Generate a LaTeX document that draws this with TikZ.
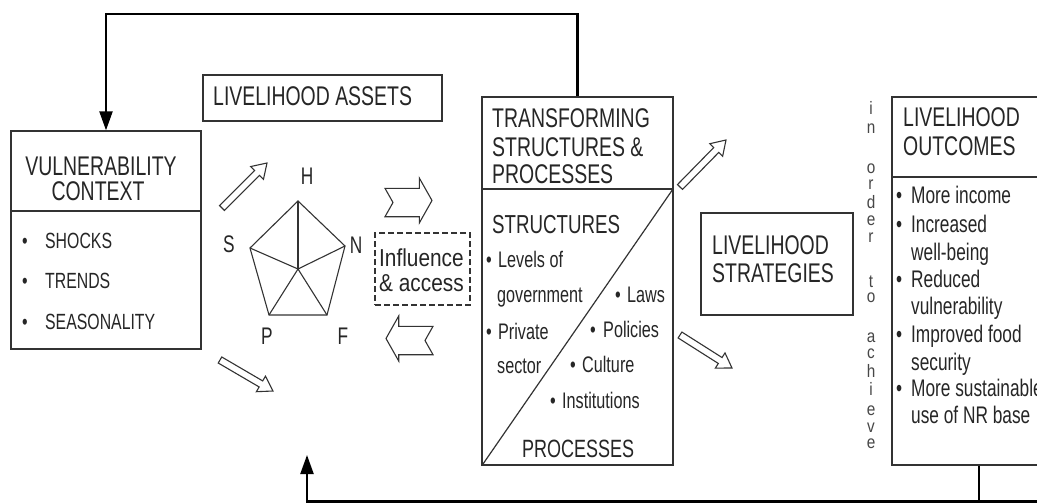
\documentclass[tikz,border=0pt]{standalone}
\usepackage{fontspec}
\setmainfont{Liberation Sans}
\newfontfamily\condf[FakeStretch=0.72]{Liberation Sans}
\newfontfamily\medf[FakeStretch=0.85]{Liberation Sans}
\usetikzlibrary{arrows.meta,calc}
\definecolor{linec}{HTML}{333333}
\definecolor{txtc}{HTML}{262626}
\newcommand\bulbox[1][12pt]{\makebox[#1][l]{•}}
\newcommand\harrow[3]{%
  \coordinate (#1t) at (#2);
  \coordinate (#1p) at (#3);
  \coordinate (#1b) at ($(#1p)!14pt!(#1t)$);
  \draw[hollow] ($(#1t)!3.5pt!90:(#1p)$) -- ($(#1b)!3.5pt!90:(#1p)$) -- ($(#1b)!9pt!90:(#1p)$) -- (#1p)
     -- ($(#1b)!9pt!-90:(#1p)$) -- ($(#1b)!3.5pt!-90:(#1p)$) -- ($(#1t)!3.5pt!-90:(#1p)$) -- cycle;}
\begin{document}
\begin{tikzpicture}[x=1pt,y=-1pt,
  box/.style={draw=linec, line width=1.3pt, inner sep=0pt},
  dbox/.style={draw=linec, line width=1.3pt, dashed, dash pattern=on 6pt off 3pt, inner sep=0pt},
  sep/.style={draw=linec, line width=1.2pt},
  fb/.style={draw=black, line width=2.2pt, -{Triangle[length=19pt,width=13pt]}},
  fbl/.style={draw=black, line width=2.2pt},
  hollow/.style={draw=linec, line width=1.1pt, fill=white, line join=miter},
  pent/.style={draw=linec, line width=1.1pt},
  ttl/.style={font=\condf\fontsize{27pt}{30pt}\selectfont, text=txtc, inner sep=0pt, anchor=base west},
  ttlc/.style={ttl, anchor=base},
  btv/.style={font=\condf\fontsize{22pt}{24pt}\selectfont, text=txtc, inner sep=0pt, anchor=base west},
  btt/.style={font=\condf\fontsize{22.5pt}{24pt}\selectfont, text=txtc, inner sep=0pt, anchor=base west},
  bto/.style={font=\condf\fontsize{24pt}{26pt}\selectfont, text=txtc, inner sep=0pt, anchor=base west},
  inf/.style={font=\medf\fontsize{24.5pt}{28pt}\selectfont, text=txtc, inner sep=0pt, anchor=base west},
  plab/.style={font=\condf\fontsize{24pt}{26pt}\selectfont, text=txtc, inner sep=0pt},
  vl/.style={font=\medf\fontsize{18pt}{19pt}\selectfont, text=txtc!85, inner sep=0pt, anchor=base}
]
\useasboundingbox (0,0) rectangle (1037,503);
\fill[white] (0,0) rectangle (1037,503);
\begin{scope}
\clip (0,0) rectangle (1037,503);

% boxes
\node[box, minimum width=190pt, minimum height=218pt] (vc) at (106,240) {};
\node[box, minimum width=239pt, minimum height=46pt] (la) at (322.5,98) {};
\node[box, minimum width=191pt, minimum height=368pt] (tsp) at (577.5,281) {};
\node[box, minimum width=152pt, minimum height=102pt] (ls) at (777,264) {};
\node[box, minimum width=174pt, minimum height=368pt] (lo) at (979,281) {};
\node[dbox, minimum width=95pt, minimum height=72pt] (ia) at (422.5,269) {};

% dividers
\draw[sep] (11,211) -- (201,211);
\draw[sep] (482,189) -- (673,189);
\draw[sep] (483,464) -- (673,189);
\draw[sep] (892,177) -- (1066,177);

% vulnerability context
\node[ttlc] (vct1) at (101,175) {VULNERABILITY};
\node[ttlc] (vct2) at (98,200) {CONTEXT};
\node[btv] (vcb1) at (22,248) {\bulbox[23pt]SHOCKS};
\node[btv] (vcb2) at (22,288) {\bulbox[23pt]TRENDS};
\node[btv] (vcb3) at (22,329) {\bulbox[23pt]SEASONALITY};

% livelihood assets
\node[ttl] (lat) at (213,106) {LIVELIHOOD ASSETS};

% pentagon
\coordinate (pH) at (298,201);
\coordinate (pS) at (250,248);
\coordinate (pN) at (345,246);
\coordinate (pF) at (327,315);
\coordinate (pP) at (269,315);
\coordinate (pC) at (298,269);
\draw[pent] (pH) -- (pN) -- (pF) -- (pP) -- (pS) -- cycle;
\foreach \v in {pH,pN,pF,pP,pS} \draw[pent] (pC) -- (\v);
\node[plab] (lH) at (307,176) {H};
\node[plab] (lS) at (229,244) {S};
\node[plab] (lN) at (356,245) {N};
\node[plab] (lP) at (267,336) {P};
\node[plab] (lF) at (343,336) {F};

% influence & access
\node[inf] (ia1) at (379,266) {Influence};
\node[inf] (ia2) at (379,291) {\& access};

% block arrows
\draw[hollow] (385,188.3) -- (419.3,188.3) -- (419.3,178) -- (432,200.5) -- (419.3,223) -- (419.3,216.7) -- (385,216.7) -- (393,202.5) -- cycle;
\draw[hollow] (433,326.3) -- (398.7,326.3) -- (398.7,316) -- (386,338.5) -- (398.7,361) -- (398.7,354.7) -- (433,354.7) -- (425,340.5) -- cycle;

% thin hollow arrows
\harrow{ha}{222,208}{267,163}
\harrow{hb}{220,360}{273,391}
\harrow{hc}{680,187}{726,140}
\harrow{hd}{680,335}{732,368}

% transforming structures
\node[ttl] (tst1) at (492,128) {TRANSFORMING};
\node[ttl] (tst2) at (492,156) {STRUCTURES \&};
\node[ttl] (tst3) at (492,183) {PROCESSES};
\node[ttl, font=\condf\fontsize{26pt}{28pt}\selectfont] (tsS) at (492,233) {STRUCTURES};
\node[btt] (ts1) at (486,267) {\bulbox Levels of};
\node[btt] (ts2) at (497,302) {government};
\node[btt] (ts3) at (615,302) {\bulbox Laws};
\node[btt] (ts4) at (486,339) {\bulbox Private};
\node[btt] (ts5) at (590,337) {\bulbox[13pt]Policies};
\node[btt] (ts6) at (497,373) {sector};
\node[btt] (ts7) at (570,372) {\bulbox Culture};
\node[btt] (ts8) at (550,408) {\bulbox Institutions};
\node[ttl, font=\condf\fontsize{25pt}{28pt}\selectfont] (tsP) at (522,457) {PROCESSES};

% livelihood strategies
\node[ttl] (lst1) at (712,254) {LIVELIHOOD};
\node[ttl] (lst2) at (712,282) {STRATEGIES};

% in order to achieve
\foreach \ch/\yy [count=\i] in {i/114, n/133, o/173, r/189, d/208, e/225, r/242, t/287, o/302, a/342, c/358, h/377, i/395, e/415, v/432, e/448}
  \node[vl] (vl\i) at (871,\yy) {\ch};

% livelihood outcomes
\node[ttl] (lot1) at (903,127) {LIVELIHOOD};
\node[ttl] (lot2) at (903,155) {OUTCOMES};
\node[bto] (lo1) at (896,203) {\bulbox[15pt]More income};
\node[bto] (lo2) at (896,232) {\bulbox[15pt]Increased};
\node[bto] (lo3) at (911,260) {well-being};
\node[bto] (lo4) at (896,287) {\bulbox[15pt]Reduced};
\node[bto] (lo5) at (911,314) {vulnerability};
\node[bto] (lo6) at (896,342) {\bulbox[15pt]Improved food};
\node[bto] (lo7) at (911,370) {security};
\node[bto] (lo8) at (896,396) {\bulbox[15pt]More sustainable};
\node[bto] (lo9) at (911,423) {use of NR base};

% feedback connectors
\coordinate (topy) at (0,14);
\coordinate (boty) at (0,501.5);
\coordinate (ain) at (307,455);
\coordinate (redge) at (1040,501.5);
\draw[fb] (tsp.north) -- (tsp.north |- topy) -| (vc.north);
\draw[fbl] (lo.south) -- (lo.south |- boty);
\draw[fb] (redge) -| (ain);
\end{scope}
\end{tikzpicture}
\end{document}
